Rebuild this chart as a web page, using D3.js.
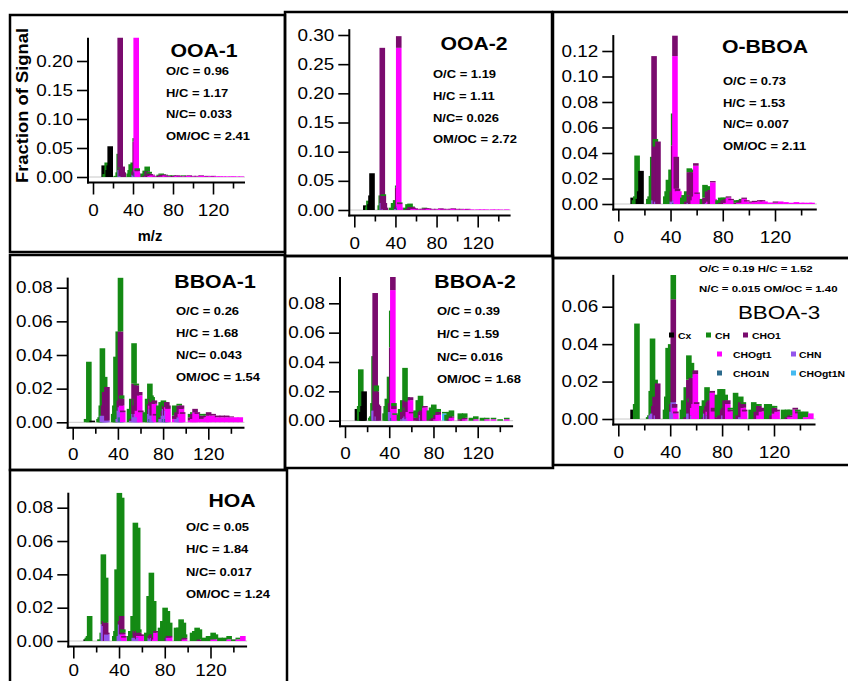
<!DOCTYPE html>
<html>
<head>
<meta charset="utf-8">
<script src="https://cdn.jsdelivr.net/npm/d3@7"></script>
<style>
  body { margin: 0; background: #fff; }
  svg { display: block; font-family: "Liberation Sans", Arial, Helvetica, sans-serif; }
</style>
</head>
<body>
<svg id="chart" width="848" height="681"></svg>
<script>
// ion families (legend order) and their colours
var families = ["Cx", "CH", "CHO1", "CHOgt1", "CHN", "CHO1N", "CHOgt1N"];
var famColors = ["#000000", "#148a14", "#7a0b6e", "#ff00ff", "#9355ec", "#2c6a8c", "#45baf0"];
// stacking order, bottom first
var stackOrder = ["CHOgt1N", "CHO1N", "CHN", "CHOgt1", "CHO1", "CH", "Cx"];

var factorNames = ["OOA-1", "OOA-2", "O-BBOA", "BBOA-1", "BBOA-2", "BBOA-3", "HOA"];
var ratioOC = ["0.96", "1.19", "0.73", "0.26", "0.39", "0.19", "0.05"];
var ratioHC = ["1.17", "1.11", "1.53", "1.68", "1.59", "1.52", "1.84"];
var ratioNC = ["0.033", "0.026", "0.007", "0.043", "0.016", "0.015", "0.017"];
var ratioOMOC = ["2.41", "2.72", "2.11", "1.54", "1.68", "1.40", "1.24"];

var xTicksMajor = [0, 40, 80, 120];
var xTicksMinor = [20, 60, 100, 140];
var yTicksOOA1 = [0, 0.05, 0.10, 0.15, 0.20];
var yTicksOOA2 = [0, 0.05, 0.10, 0.15, 0.20, 0.25, 0.30];
var yTicksOBBOA = [0, 0.02, 0.04, 0.06, 0.08, 0.10, 0.12];
var yTicksBBOA1 = [0, 0.02, 0.04, 0.06, 0.08];
var yTicksBBOA2 = [0, 0.02, 0.04, 0.06, 0.08];
var yTicksBBOA3 = [0, 0.02, 0.04, 0.06];
var yTicksHOA = [0, 0.02, 0.04, 0.06, 0.08];

// rows: m/z, Cx, CH, CHO1, CHOgt1, CHN, CHO1N, CHOgt1N
var specOOA1 = [
 [12,.020,0,0,0,0,0,0],[13,0,.005,0,0,0,0,0],[15,0,.025,0,0,0,0,0],[16,.012,0,0,0,0,0,0],
 [17,.020,0,0,0,0,0,0],[18,.053,0,0,0,0,0,0],[24,0,.002,0,0,0,0,0],[26,0,.008,0,0,0,0,0],
 [27,0,.040,0,0,0,0,0],[28,0,0,.250,0,.012,0,0],[29,0,.004,.012,0,.001,0,0],[30,0,0,.016,0,.002,0,0],
 [31,0,0,.008,0,0,0,0],[37,0,.006,0,0,0,0,0],[38,0,.012,0,0,0,0,0],[39,0,.022,0,0,0,0,0],
 [41,0,.024,.001,0,0,0,0],[42,0,.004,.006,0,.004,0,0],[43,0,.006,.059,0,.002,0,0],
 [44,0,0,.012,.250,.002,.008,0],[45,0,.003,.002,.010,0,0,0],[46,0,0,0,.006,0,0,0],
 [51,0,.006,0,0,0,0,0],[53,0,.009,.002,0,0,0,0],[55,0,.008,.009,0,.001,0,0],[56,0,.002,.004,0,0,0,0],
 [57,0,.003,.006,0,0,0,0],[58,0,0,.003,.002,0,0,0],[60,0,0,.001,.003,0,0,0],[63,0,0,.001,.001,0,0,0],
 [67,0,.002,.002,0,0,0,0],[69,0,.002,.003,.001,0,0,0],[71,0,.001,.003,.001,0,0,0],[73,0,0,.001,.003,0,0,0],
 [75,0,0,.001,.001,0,0,0],[77,0,.001,.001,.001,0,0,0],[81,0,.001,.002,0,0,0,0],[83,0,0,.001,.001,0,0,0],
 [85,0,0,.001,.002,0,0,0],[87,0,0,.001,.001,0,0,0],[91,0,.001,.001,.001,0,0,0],[95,0,0,.001,.001,0,0,0],
 [97,0,0,.001,.002,0,0,0],[101,0,0,.001,.001,0,0,0],[105,0,0,.001,.001,0,0,0],[109,0,0,.001,.002,0,0,0],
 [113,0,0,0,.0015,0,0,0],[115,0,0,.001,.001,0,0,0],[119,0,0,0,.0015,0,0,0],[121,0,0,.001,.001,0,0,0],
 [125,0,0,0,.0012,0,0,0],[128,0,0,0,.001,0,0,0],[131,0,0,0,.001,0,0,0],[135,0,0,0,.001,0,0,0],
 [139,0,0,0,.0008,0,0,0],[141,0,0,0,.001,0,0,0],[145,0,0,0,.0008,0,0,0],[149,0,0,0,.001,0,0,0]
];
var specOOA2 = [
 [12,.008,0,0,0,0,0,0],[14,0,.006,0,0,0,0,0],[15,0,.016,0,0,0,0,0],[16,.010,0,0,0,0,0,0],
 [17,.025,0,0,0,0,0,0],[18,.063,0,0,0,0,0,0],[26,0,.008,0,0,0,0,0],[27,0,.025,0,0,0,0,0],
 [28,0,0,.266,0,.012,0,0],[29,0,.003,.024,0,0,0,0],[30,0,0,.010,0,.002,0,0],[31,0,0,.004,0,0,0,0],
 [37,0,.004,0,0,0,0,0],[39,0,.012,0,0,0,0,0],[41,0,.017,0,0,0,0,0],[42,0,.002,.004,0,.002,0,0],
 [43,0,.004,.036,0,.002,0,0],[44,0,0,.020,.272,.002,.004,0],[45,0,.001,.002,.010,0,0,0],[46,0,0,0,.004,0,0,0],
 [51,0,.004,0,0,0,0,0],[53,0,.008,.002,0,0,0,0],[55,0,.006,.005,0,0,0,0],[57,0,.001,.005,0,0,0,0],
 [58,0,0,.002,.002,0,0,0],[60,0,0,.001,.002,0,0,0],[63,0,0,.001,.001,0,0,0],[67,0,0,.001,.001,0,0,0],
 [69,0,.001,.002,.001,0,0,0],[71,0,0,.002,.001,0,0,0],[73,0,0,.001,.002,0,0,0],[77,0,0,.001,.001,0,0,0],
 [81,0,0,.001,.001,0,0,0],[85,0,0,.001,.002,0,0,0],[87,0,0,.001,.001,0,0,0],[91,0,0,.001,.001,0,0,0],
 [95,0,0,.001,.001,0,0,0],[97,0,0,.001,.002,0,0,0],[101,0,0,.001,.001,0,0,0],[105,0,0,.001,.001,0,0,0],
 [109,0,0,0,.0015,0,0,0],[111,0,0,.001,.001,0,0,0],[115,0,0,0,.001,0,0,0],[121,0,0,0,.001,0,0,0],
 [125,0,0,0,.001,0,0,0],[129,0,0,0,.001,0,0,0],[135,0,0,0,.001,0,0,0],[139,0,0,0,.0008,0,0,0],
 [143,0,0,0,.0008,0,0,0],[149,0,0,0,.001,0,0,0]
];
var specOBBOA = [
 [12,.005,0,0,0,0,0,0],[13,0,.003,0,0,0,0,0],[14,0,.006,0,0,0,0,0],[15,0,.038,0,0,0,0,0],
 [16,.004,0,0,0,0,0,0],[17,.010,0,0,0,0,0,0],[18,.026,0,0,0,0,0,0],[24,0,.004,0,0,0,0,0],
 [25,0,.006,0,0,0,0,0],[26,0,.022,0,0,0,0,0],[27,0,.037,0,0,0,0,0],[28,0,0,.113,0,.003,0,0],
 [29,0,.006,.045,0,0,0,0],[30,0,0,.012,0,.002,0,0],[31,0,0,.049,0,0,0,0],[37,0,.006,0,0,0,0,0],
 [38,0,.010,0,0,0,0,0],[39,0,.019,0,0,0,0,0],[41,0,.027,0,0,0,0,0],[42,0,.004,.008,0,.002,0,0],
 [43,0,.025,.044,0,.002,0,0],[44,0,0,.016,.113,.002,.001,0],[45,0,0,.025,.012,0,0,0],[46,0,0,.002,.010,0,0,0],
 [47,0,0,0,.010,0,0,0],[50,0,.005,0,0,0,0,0],[51,0,.007,0,0,0,0,0],[53,0,.008,.002,0,0,0,0],
 [55,0,.003,.024,0,.001,0,0],[56,0,.001,.006,0,0,0,0],[57,0,.002,.025,0,0,0,0],[58,0,0,.006,.003,0,0,0],
 [59,0,0,.003,.006,0,0,0],[60,0,0,.002,.030,0,0,0],[61,0,0,.001,.008,0,0,0],[65,0,.004,0,0,0,0,0],
 [67,0,.010,.005,0,0,0,0],[69,0,.004,.009,0,.001,0,0],[70,0,0,.004,.002,0,0,0],[71,0,.001,.011,0,0,0,0],
 [73,0,0,.001,.017,0,0,0],[74,0,0,0,.004,0,0,0],[77,0,.003,0,0,0,0,0],[79,0,.004,.001,0,0,0,0],
 [81,0,.002,.003,0,0,0,0],[83,0,.001,.003,.001,0,0,0],[85,0,0,.001,.005,0,0,0],[87,0,0,.001,.003,0,0,0],
 [91,0,.002,.001,0,0,0,0],[93,0,.001,.001,.001,0,0,0],[95,0,.001,.002,.001,0,0,0],[97,0,0,.001,.004,0,0,0],
 [99,0,0,.001,.002,0,0,0],[103,0,0,.001,.001,0,0,0],[105,0,0,.001,.0015,0,0,0],[109,0,0,.001,.002,0,0,0],
 [111,0,0,.001,.002,0,0,0],[113,0,0,0,.002,0,0,0],[117,0,0,0,.0012,0,0,0],[121,0,0,.001,.001,0,0,0],
 [125,0,0,0,.002,0,0,0],[129,0,0,0,.0015,0,0,0],[133,0,0,0,.001,0,0,0],[137,0,0,0,.0015,0,0,0],
 [141,0,0,0,.001,0,0,0],[143,0,0,0,.001,0,0,0],[147,0,0,0,.001,0,0,0],[149,0,0,0,.001,0,0,0]
];
var specBBOA1 = [
 [13,0,.002,0,0,0,0,0],[15,0,.036,0,0,0,0,0],[18,.001,0,0,0,0,0,0],[24,0,.002,0,0,0,0,0],
 [25,0,.003,0,0,0,0,0],[26,0,.010,0,0,0,0,0],[27,0,.040,0,0,.004,0,0],[28,0,0,.006,0,.004,0,0],
 [29,0,.009,.014,0,.004,0,0],[30,0,0,.008,0,.004,0,0],[31,0,0,.020,0,.001,0,0],[37,0,.005,0,0,0,0,0],
 [38,0,.010,0,0,0,0,0],[39,0,.039,0,0,0,0,0],[41,0,.052,0,0,.002,0,0],[42,0,.006,.006,0,.007,0,0],
 [43,0,.032,.045,0,.006,.003,0],[44,0,.002,.004,.004,.003,.003,0],[45,0,0,.001,.006,0,0,0],
 [51,0,.008,0,0,0,0,0],[53,0,.012,.001,0,.001,0,0],[55,0,.024,.018,0,.005,0,0],[56,0,.004,.007,0,.003,0,0],
 [57,0,.001,.017,0,.005,0,0],[58,0,0,.004,.004,.003,0,0],[60,0,0,.002,.016,0,0,0],[61,0,0,.001,.006,0,0,0],
 [65,0,.006,0,0,0,0,0],[67,0,.014,0,0,0,0,0],[69,0,.012,.006,0,.005,0,0],[70,0,.002,.004,.002,.006,.002,0],
 [71,0,.003,.008,0,.004,0,0],[73,0,0,.002,.010,.001,0,0],[74,0,0,.001,.004,0,0,0],[77,0,.010,0,0,0,0,0],
 [79,0,.009,.001,0,.002,0,0],[81,0,.006,.003,0,.004,0,0],[82,0,.002,.002,0,.006,.002,0],[83,0,.003,.005,0,.004,0,0],
 [84,0,0,.003,.002,.005,.002,0],[85,0,0,.002,.008,0,0,0],[91,0,.006,.002,.002,0,0,0],[93,0,.003,.004,0,.002,0,0],
 [95,0,.001,.007,0,.003,0,0],[96,0,0,.004,.002,.003,0,0],[97,0,0,.002,.008,0,0,0],[98,0,0,.001,.005,0,0,0],
 [105,0,.002,.002,.001,0,0,0],[107,0,.001,.003,.002,0,0,0],[109,0,0,.002,.006,0,0,0],[111,0,0,.001,.005,0,0,0],
 [115,0,.001,.002,.002,0,0,0],[119,0,.001,.001,.003,0,0,0],[121,0,0,.002,.004,0,0,0],[125,0,0,.001,.004,0,0,0],
 [129,0,0,.001,.003,0,0,0],[133,0,0,.001,.003,0,0,0],[137,0,0,.001,.003,0,0,0],[141,0,0,.0005,.003,0,0,0],
 [145,0,0,0,.003,0,0,0],[149,0,0,0,.003,0,0,0]
];
var specBBOA2 = [
 [12,.008,0,0,0,0,0,0],[14,0,.010,0,0,0,0,0],[15,0,.035,0,0,0,0,0],[16,.006,0,0,0,0,0,0],
 [17,.010,0,0,0,0,0,0],[18,.020,0,0,0,0,0,0],[24,0,.002,0,0,0,0,0],[25,0,.003,0,0,0,0,0],
 [26,0,.012,0,0,0,0,0],[27,0,.037,0,0,.007,0,0],[28,0,0,.080,0,.007,0,0],[29,0,.004,.020,0,0,0,0],
 [30,0,0,.008,0,.003,0,0],[31,0,0,.010,0,0,0,0],[37,0,.005,0,0,0,0,0],[38,0,.010,0,0,0,0,0],
 [39,0,.015,0,0,0,0,0],[41,0,.030,0,0,0,0,0],[42,0,.003,.006,0,.006,0,0],[43,0,.025,.044,0,.006,0,0],
 [44,0,0,.009,.083,.004,.002,0],[45,0,.002,.002,.008,0,0,0],[46,0,.001,0,.004,0,0,0],[50,0,.004,0,0,0,0,0],
 [51,0,.008,0,0,0,0,0],[53,0,.008,.005,0,.001,0,0],[55,0,.022,.012,0,.002,0,0],[56,0,.002,.004,0,.003,0,0],
 [57,0,.003,.012,0,.001,0,0],[58,0,0,.003,.004,.002,0,0],[59,0,0,.002,.006,0,0,0],[60,0,0,.002,.014,0,0,0],
 [61,0,0,.001,.005,0,0,0],[65,0,.005,.002,0,0,0,0],[67,0,.012,.002,0,0,0,0],[69,0,.011,.006,0,0,0,0],
 [70,0,.001,.003,.002,.002,0,0],[71,0,.002,.007,0,0,0,0],[73,0,0,.001,.009,0,0,0],[74,0,0,0,.003,0,0,0],
 [77,0,.007,0,0,0,0,0],[79,0,.008,.001,0,0,0,0],[81,0,.009,.002,0,0,0,0],[83,0,.004,.003,.001,0,0,0],
 [85,0,.002,.002,.004,0,0,0],[91,0,.001,0,0,0,0,.005],[93,0,.004,0,0,0,0,0],[95,0,.005,.001,0,0,0,0],
 [97,0,.004,.001,.002,0,0,0],[105,0,.004,.001,0,0,0,0],[107,0,.003,.001,0,0,0,0],[109,0,.003,.001,.001,0,0,0],
 [115,0,.002,0,0,0,0,0],[119,0,.002,0,.001,0,0,0],[125,0,.002,0,0,0,0,0],[129,0,.001,0,.001,0,0,0],
 [135,0,.001,0,.001,0,0,0],[141,0,.001,0,0,0,0,0],[147,0,.001,0,.001,0,0,0]
];
var specBBOA3 = [
 [12,.005,0,0,0,0,0,0],[14,0,.008,0,0,0,0,0],[15,0,.051,0,0,0,0,0],[24,0,.001,0,0,0,0,0],
 [25,0,.002,0,0,0,0,0],[26,0,.013,0,0,.002,0,0],[27,0,.040,0,0,.003,0,0],[28,0,.002,.004,0,.003,0,0],
 [29,0,.009,.012,0,0,0,0],[30,0,0,.004,0,.002,0,0],[31,0,0,.019,0,0,0,0],[37,0,.005,0,0,0,0,0],
 [38,0,.012,0,0,0,0,0],[39,0,.038,0,0,0,0,0],[41,0,.040,0,0,0,0,0],[42,0,.004,.004,0,.004,0,0],
 [43,0,.013,.055,0,.009,0,0],[44,0,0,.002,.003,.003,0,0],[45,0,0,.001,.003,0,0,0],[50,0,.005,0,0,0,0,0],
 [51,0,.010,0,0,0,0,0],[53,0,.016,.001,0,0,0,0],[55,0,.013,.018,0,.003,0,0],[56,0,.002,.006,0,.003,0,0],
 [57,0,.008,.022,0,0,0,0],[58,0,0,.004,.004,.002,0,0],[59,0,0,.004,.008,0,0,0],[60,0,0,.002,.024,0,0,0],
 [61,0,0,.001,.008,0,0,0],[65,0,.007,0,0,0,0,0],[67,0,.009,.001,0,0,0,0],[68,0,.002,.002,0,.003,0,0],
 [69,0,.010,.007,0,0,0,0],[70,0,.001,.005,.002,.002,0,0],[71,0,.004,.010,0,0,0,0],[73,0,0,.001,.014,0,0,0],
 [74,0,0,.002,.004,0,0,0],[77,0,.012,.001,0,0,0,0],[79,0,.014,.002,0,0,0,0],[81,0,.011,.005,0,0,0,0],
 [82,0,.002,.004,0,.002,0,0],[83,0,.003,.010,0,0,0,0],[85,0,0,.002,.008,0,0,0],[87,0,.001,.001,.004,0,0,0],
 [91,0,.014,0,0,0,0,0],[93,0,.009,.002,0,0,0,0],[95,0,.003,.008,0,.001,0,0],[97,0,.001,.002,.006,0,0,0],
 [98,0,0,.001,.004,0,0,0],[103,0,.005,0,0,0,0,0],[105,0,.009,0,0,0,0,0],[107,0,.004,.004,0,0,0,0],
 [109,0,.001,.005,.002,0,0,0],[111,0,0,.002,.004,0,0,0],[115,0,.008,0,0,0,0,0],[117,0,.008,0,0,0,0,0],
 [119,0,.005,.002,0,0,0,0],[121,0,.001,.003,.003,0,0,0],[123,0,0,.001,.004,0,0,0],[128,0,.005,0,0,0,0,0],
 [131,0,.004,.001,0,0,0,0],[133,0,.003,.001,.001,0,0,0],[137,0,0,.001,.005,0,0,0],[139,0,.001,.001,.003,0,0,0],
 [141,0,.004,0,0,0,0,0],[145,0,.003,0,.001,0,0,0],[149,0,0,0,.003,0,0,0]
];
var specHOA = [
 [12,.001,0,0,0,0,0,0],[13,0,.002,0,0,0,0,0],[14,0,.003,0,0,0,0,0],[15,0,.015,0,0,0,0,0],
 [24,0,.001,0,0,0,0,0],[26,0,.005,0,0,0,0,0],[27,0,.042,0,0,.010,0,0],[28,0,0,.003,0,.009,0,0],
 [29,0,.027,.011,0,0,0,0],[30,0,0,.001,0,.004,0,0],[37,0,.003,0,0,0,0,0],[38,0,.006,0,0,0,0,0],
 [39,0,.043,0,0,0,0,0],[40,0,.006,0,0,0,0,0],[41,0,.086,0,0,.003,0,0],[42,0,.008,.002,0,.010,0,0],
 [43,0,.071,.011,0,.004,0,0],[44,0,.002,.001,.003,.001,0,0],[45,0,0,.001,.002,0,0,0],[50,0,.003,0,0,0,0,0],
 [51,0,.006,0,0,0,0,0],[53,0,.015,0,0,0,0,0],[54,0,.004,0,0,.002,0,0],[55,0,.065,.004,0,.002,0,0],
 [56,0,.010,.003,0,.002,0,0],[57,0,.062,.005,0,.001,0,0],[58,0,.002,.002,.001,.002,0,0],[60,0,0,.001,.003,0,0,0],
 [65,0,.005,0,0,0,0,0],[67,0,.027,0,0,0,0,0],[68,0,.004,.001,0,.002,0,0],[69,0,.037,.003,0,.001,0,0],
 [70,0,.005,.002,0,.002,0,0],[71,0,.020,.004,0,0,0,0],[72,0,.002,.001,.001,0,0,0],[73,0,0,.001,.005,0,0,0],
 [77,0,.008,0,0,0,0,0],[79,0,.012,0,0,0,0,0],[81,0,.020,0,0,0,0,0],[83,0,.016,.002,0,0,0,0],
 [84,0,.002,.001,0,.002,0,0],[85,0,.008,.001,.002,0,0,0],[91,0,.008,0,0,0,0,0],[93,0,.008,0,0,0,0,0],
 [95,0,.013,0,0,0,0,0],[97,0,.010,.001,0,0,0,0],[98,0,.002,.001,.001,0,0,0],[105,0,.005,0,0,0,0,0],
 [107,0,.006,0,0,0,0,0],[109,0,.008,0,0,0,0,0],[111,0,.006,.001,0,0,0,0],[115,0,.002,0,0,0,0,0],
 [119,0,.003,0,0,0,0,0],[121,0,.003,0,0,0,0,0],[123,0,.004,0,.001,0,0,0],[125,0,.003,0,.001,0,0,0],
 [129,0,.002,0,0,0,0,0],[133,0,.002,0,0,0,0,0],[137,0,.002,0,.001,0,0,0],[141,0,.001,0,0,0,0,0],
 [145,0,.001,0,.001,0,0,0],[149,0,0,0,.003,0,0,0]
];

// panel layout: frame box, pixel calibration of the axes, text positions
var panels = [
  {spec: specOOA1, yTicks: yTicksOOA1, frame: [10, 15, 285, 252], x0: 93, x120: 213, y0: 177, yRef: [0.20, 61], yTop: 0.24, labPad: 10, title: [204, 57], stats: [166, [75, 97, 118, 140]]},
  {spec: specOOA2, yTicks: yTicksOOA2, frame: [285, 12, 552, 256], x0: 354.3, x120: 477.7, y0: 210, yRef: [0.30, 35], yTop: 0.31, labPad: 10, title: [474, 50], stats: [433, [78, 100, 122, 143]]},
  {spec: specOBBOA, yTicks: yTicksOBBOA, frame: [553, 12, 850, 258], x0: 618.3, x120: 775, y0: 204, yRef: [0.12, 51], yTop: 0.1325, labPad: 10, title: [765, 53], stats: [723, [85, 107, 128, 150]]},
  {spec: specBBOA1, yTicks: yTicksBBOA1, frame: [10, 255, 285, 470], x0: 72.7, x120: 208.3, y0: 422.3, yRef: [0.08, 287.7], yTop: 0.086, labPad: 9, title: [215, 288], stats: [176, [315, 337, 359, 381]]},
  {spec: specBBOA2, yTicks: yTicksBBOA2, frame: [285, 256, 553, 468], x0: 345, x120: 477.7, y0: 420.7, yRef: [0.08, 303.3], yTop: 0.098, labPad: 9, title: [475, 288], stats: [437, [315, 338, 361, 383]]},
  {spec: specBBOA3, yTicks: yTicksBBOA3, frame: [553, 258, 850, 465], x0: 618.3, x120: 774, y0: 419, yRef: [0.06, 306.7], yTop: 0.077, labPad: 10, title: [779, 319], stats: [699, [272, 292]]},
  {spec: specHOA, yTicks: yTicksHOA, frame: [10, 470, 287, 700], x0: 73.3, x120: 210.5, y0: 641, yRef: [0.08, 507.7], yTop: 0.089, labPad: 6.5, title: [232, 507], stats: [186, [531, 553, 576, 598]]}
];

var SX = 1.18;   // the picture's text is a little wider than tall
var TICKFONT = 16;
var FONT = '"Liberation Sans", Arial, Helvetica, sans-serif';
var color = d3.scaleOrdinal().domain(families).range(famColors);
var svg = d3.select("#chart");

function addText(g, x, y, str, size, weight, anchor, sx) {
  return g.append("text")
    .attr("transform", "translate(" + x + "," + y + ") scale(" + (sx || SX) + ",1)")
    .attr("font-size", size)
    .attr("font-weight", weight || "normal")
    .attr("text-anchor", anchor || "start")
    .attr("fill", "#000")
    .text(str);
}

// move axis labels into a transform so they can be stretched
function stretch(sel, s) {
  sel.each(function () {
    var t = d3.select(this);
    var x = +t.attr("x") || 0, y = +t.attr("y") || 0;
    t.attr("x", null).attr("y", null)
      .attr("transform", "translate(" + x + "," + y + ") scale(" + s + ",1)");
  });
}

panels.forEach(function (p, pi) {
  var g = svg.append("g");
  var x = d3.scaleLinear().domain([0, 120]).range([p.x0, p.x120]);
  var y = d3.scaleLinear().domain([0, p.yRef[0]]).range([p.y0, p.yRef[1]]);
  var ax = x(0) - 5;
  var axY = p.y0 + 5.5;
  var xEnd = x(152);
  var yTopPx = y(p.yTop);

  // frame
  g.append("rect")
    .attr("x", p.frame[0]).attr("y", p.frame[1])
    .attr("width", p.frame[2] - p.frame[0]).attr("height", p.frame[3] - p.frame[1])
    .attr("fill", "none").attr("stroke", "#000").attr("stroke-width", 2.5);

  // zero line
  g.append("line")
    .attr("x1", ax).attr("x2", xEnd).attr("y1", p.y0).attr("y2", p.y0)
    .attr("stroke", "#c8c8c8").attr("stroke-width", 1);

  // stacked family bars, drawn in m/z order
  var clipId = "clip" + pi;
  g.append("clipPath").attr("id", clipId).append("rect")
    .attr("x", ax).attr("y", yTopPx).attr("width", xEnd - ax).attr("height", p.y0 - yTopPx + 0.5);

  var rows = p.spec.map(function (r) {
    var o = {mz: r[0]};
    families.forEach(function (f, i) { o[f] = r[i + 1]; });
    return o;
  });
  var series = d3.stack().keys(stackOrder)(rows);

  g.append("g").attr("clip-path", "url(#" + clipId + ")")
    .selectAll("g").data(rows).join("g")
    .selectAll("rect")
    .data(function (d, i) {
      return series.map(function (s) {
        return {key: s.key, mz: d.mz, v0: s[i][0], v1: s[i][1]};
      }).filter(function (s) { return s.v1 > s.v0; });
    })
    .join("rect")
    .attr("x", function (d) { return x(d.mz) - 3.6; })
    .attr("width", 5.6)
    .attr("y", function (d) { return y(d.v1); })
    .attr("height", function (d) { return y(d.v0) - y(d.v1); })
    .attr("fill", function (d) { return color(d.key); });

  // y axis
  var ya = g.append("g").attr("transform", "translate(" + ax + ",0)")
    .call(d3.axisLeft(y).tickValues(p.yTicks).tickSize(11).tickPadding(4).tickFormat(d3.format(".2f")));
  ya.select(".domain").remove();
  ya.attr("font-family", FONT).attr("font-size", TICKFONT);
  ya.selectAll("line").attr("stroke-width", 1.6);
  stretch(ya.selectAll("text"), SX);
  g.append("line").attr("x1", ax).attr("x2", ax).attr("y1", yTopPx).attr("y2", axY + 1)
    .attr("stroke", "#000").attr("stroke-width", 2);

  // x axis, major and minor ticks
  var xa = g.append("g").attr("transform", "translate(0," + axY + ")")
    .call(d3.axisBottom(x).tickValues(xTicksMajor).tickSize(12).tickPadding(p.labPad).tickFormat(d3.format("d")));
  xa.select(".domain").remove();
  xa.attr("font-family", FONT).attr("font-size", TICKFONT);
  xa.selectAll("line").attr("stroke-width", 1.6);
  stretch(xa.selectAll("text"), SX);
  var xm = g.append("g").attr("transform", "translate(0," + axY + ")")
    .call(d3.axisBottom(x).tickValues(xTicksMinor).tickSize(6).tickFormat(""));
  xm.select(".domain").remove();
  xm.selectAll("line").attr("stroke-width", 1.6);
  g.append("line").attr("x1", ax - 1).attr("x2", xEnd).attr("y1", axY).attr("y2", axY)
    .attr("stroke", "#000").attr("stroke-width", 2);

  // factor name and elemental ratios
  if (factorNames[pi] === "BBOA-3") {
    addText(g, p.title[0], p.title[1], factorNames[pi], 19, "normal", "middle");
    addText(g, p.stats[0], p.stats[1][0], "O/C = " + ratioOC[pi] + " H/C = " + ratioHC[pi], 9.7, "bold");
    addText(g, p.stats[0], p.stats[1][1], "N/C = " + ratioNC[pi] + " OM/OC = " + ratioOMOC[pi], 9.7, "bold");
  } else {
    addText(g, p.title[0], p.title[1], factorNames[pi], 18, "bold", "middle");
    var lines = ["O/C = " + ratioOC[pi], "H/C = " + ratioHC[pi], "N/C= " + ratioNC[pi], "OM/OC = " + ratioOMOC[pi]];
    lines.forEach(function (s, li) { addText(g, p.stats[0], p.stats[1][li], s, 11, "bold"); });
  }
});

// legend (in the BBOA-3 panel)
var legendPos = [[669, 678, 335], [706, 715, 335], [743, 752, 335], [717, 733, 354], [791, 799, 354], [717, 733, 373], [791, 799, 373]];
var lg = svg.append("g");
families.forEach(function (f, i) {
  var lp = legendPos[i];
  lg.append("rect").attr("x", lp[0]).attr("y", lp[2] - 2.5).attr("width", 5).attr("height", 5).attr("fill", color(f));
  addText(lg, lp[1], lp[2] + 3.5, f, 9.6, "bold", "start", 1.08);
});

// axis titles of the first panel
svg.append("text")
  .attr("transform", "translate(27.5,105.5) rotate(-90)")
  .attr("text-anchor", "middle").attr("font-size", 17).attr("font-weight", "bold")
  .attr("textLength", 155).attr("lengthAdjust", "spacingAndGlyphs")
  .text("Fraction of Signal");
addText(svg, 150, 241, "m/z", 14, "bold", "middle", 1.05);
</script>
</body>
</html>
